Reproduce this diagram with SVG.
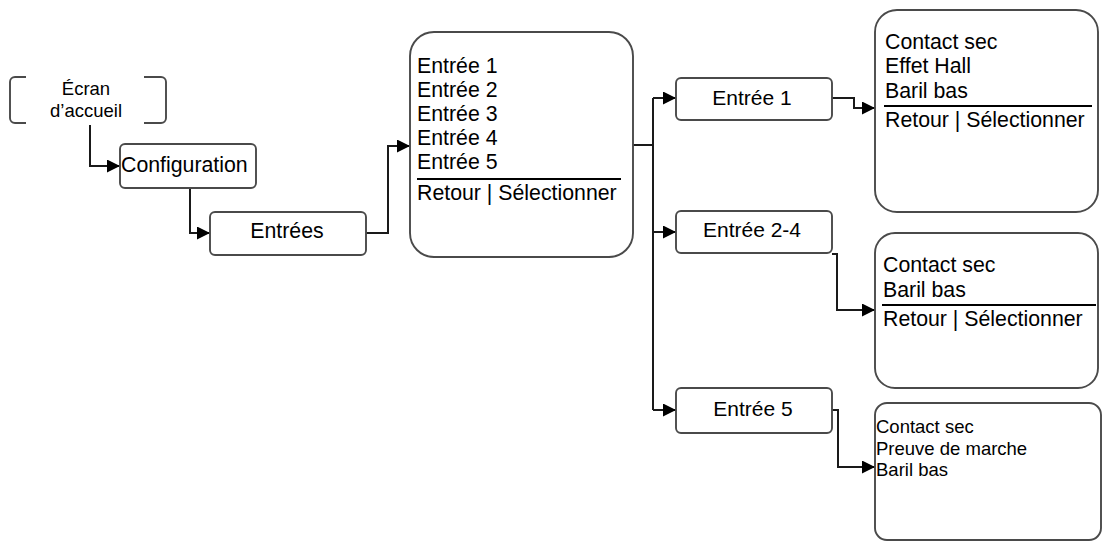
<svg xmlns="http://www.w3.org/2000/svg" width="1102" height="542" viewBox="0 0 1102 542">
<style>
.box{fill:#fff;stroke:#4a4a4a;stroke-width:1.9}
.t{font-family:"Liberation Sans",Arial,sans-serif;font-size:21.3px;fill:#000}
.m{font-family:"Liberation Sans",Arial,sans-serif;font-size:21px;fill:#000}
.s{font-family:"Liberation Sans",Arial,sans-serif;font-size:18.5px;fill:#000}
.c{text-anchor:middle}
.sep{stroke:#000;stroke-width:2}
.conn path{fill:none;stroke:#1a1a1a;stroke-width:2}
</style>
<defs>
<marker id="arr" viewBox="0 0 10 10" refX="10" refY="5" markerWidth="13" markerHeight="13" markerUnits="userSpaceOnUse" orient="auto">
<path d="M0,0 L10,5 L0,10 Z" fill="#000"/>
</marker>
</defs>
<rect width="1102" height="542" fill="#fff"/>
<g class="conn">
<path d="M90,123 V166 H120" marker-end="url(#arr)"/>
<path d="M190,188 V233 H210" marker-end="url(#arr)"/>
<path d="M366,233 H388 V146 H410" marker-end="url(#arr)"/>
<path d="M633,145 H653"/>
<path d="M653,98 V410"/>
<path d="M653,98 H676" marker-end="url(#arr)"/>
<path d="M653,232 H676" marker-end="url(#arr)"/>
<path d="M653,410 H676" marker-end="url(#arr)"/>
<path d="M832,98 H854 V108 H875" marker-end="url(#arr)"/>
<path d="M832,254 H837 V310 H875" marker-end="url(#arr)"/>
<path d="M832,410 H838 V467 H875" marker-end="url(#arr)"/>
</g>
<g id="ecran">
<rect class="box" x="10" y="77" width="156" height="46" rx="5"/>
<rect x="26" y="75" width="118" height="50" fill="#fff"/>
<text class="s c" x="86" y="95">Écran</text>
<text class="s c" x="86" y="117">d’accueil</text>
</g>
<g id="configuration">
<rect class="box" x="120" y="144" width="136" height="44" rx="5"/>
<text class="t" x="121" y="172">Configuration</text>
</g>
<g id="entrees">
<rect class="box" x="210" y="212" width="156" height="43" rx="5"/>
<text class="t c" x="287" y="238">Entrées</text>
</g>
<g id="liste">
<rect class="box" x="410" y="32" width="223" height="225" rx="24"/>
<text class="t" x="417" y="73">Entrée 1</text>
<text class="t" x="417" y="97">Entrée 2</text>
<text class="t" x="417" y="121">Entrée 3</text>
<text class="t" x="417" y="145">Entrée 4</text>
<text class="t" x="417" y="169">Entrée 5</text>
<line class="sep" x1="417" y1="179" x2="621" y2="179"/>
<text class="t" x="417" y="200">Retour | Sélectionner</text>
</g>
<g id="entree1">
<rect class="box" x="676" y="78" width="156" height="42" rx="5"/>
<text class="m c" x="752" y="105">Entrée 1</text>
</g>
<g id="entree24">
<rect class="box" x="676" y="211" width="156" height="42" rx="5"/>
<text class="m c" x="752" y="237">Entrée 2-4</text>
</g>
<g id="entree5">
<rect class="box" x="676" y="388" width="156" height="45" rx="5"/>
<text class="m c" x="753" y="416">Entrée 5</text>
</g>
<g id="res1">
<rect class="box" x="875" y="10" width="223" height="202" rx="22"/>
<text class="t" x="885" y="49">Contact sec</text>
<text class="t" x="885" y="73">Effet Hall</text>
<text class="t" x="885" y="98">Baril bas</text>
<line class="sep" x1="884" y1="106" x2="1092" y2="106"/>
<text class="t" x="885" y="127">Retour | Sélectionner</text>
</g>
<g id="res2">
<rect class="box" x="875" y="233" width="223" height="155" rx="20"/>
<text class="t" x="883" y="272">Contact sec</text>
<text class="t" x="883" y="297">Baril bas</text>
<line class="sep" x1="882" y1="305" x2="1096" y2="305"/>
<text class="t" x="883" y="326">Retour | Sélectionner</text>
</g>
<g id="res3">
<rect class="box" x="875" y="403" width="226" height="137" rx="12"/>
<text class="s" x="876" y="433">Contact sec</text>
<text class="s" x="876" y="455">Preuve de marche</text>
<text class="s" x="876" y="476">Baril bas</text>
</g>
</svg>
